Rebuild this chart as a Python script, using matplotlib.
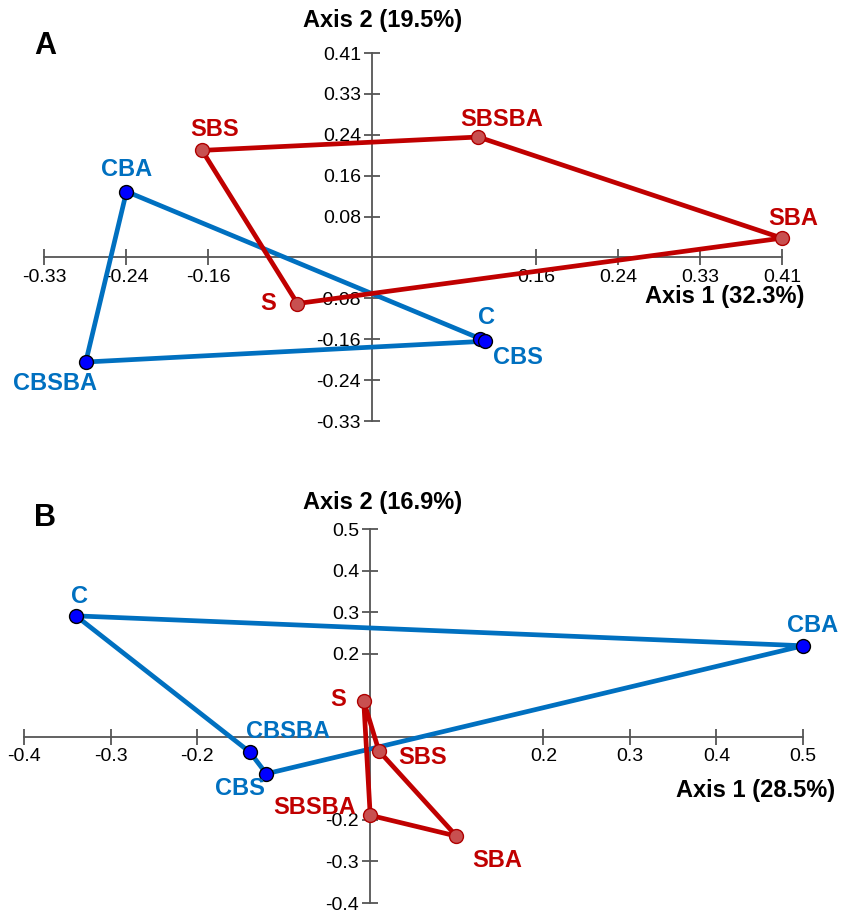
import matplotlib.pyplot as plt

plt.rcParams['font.family'] = ['Liberation Sans', 'DejaVu Sans']

# panel A (axis scores)
a_soil = ['SBS', 'SBSBA', 'SBA', 'S']
a_soil_x = [-0.171, 0.107, 0.4125, -0.075]
a_soil_y = [0.216, 0.243, 0.039, -0.093]
a_ctrl = ['CBA', 'C', 'CBS', 'CBSBA']
a_ctrl_x = [-0.247, 0.109, 0.114, -0.288]
a_ctrl_y = [0.133, -0.164, -0.169, -0.211]
a_xticks = [-0.33, -0.2475, -0.165, 0.165, 0.2475, 0.33, 0.4125]
a_xlabels = ['-0.33', '-0.24', '-0.16', '0.16', '0.24', '0.33', '0.41']
a_yticks = [0.4125, 0.33, 0.2475, 0.165, 0.0825, -0.0825, -0.165, -0.2475, -0.33]
a_ylabels = ['0.41', '0.33', '0.24', '0.16', '0.08', '-0.08', '-0.16', '-0.24', '-0.33']

# panel B
b_soil = ['S', 'SBS', 'SBA', 'SBSBA']
b_soil_x = [-0.0075, 0.010, 0.0996, 0.0]
b_soil_y = [0.086, -0.034, -0.239, -0.189]
b_ctrl = ['C', 'CBA', 'CBS', 'CBSBA']
b_ctrl_x = [-0.340, 0.500, -0.120, -0.139]
b_ctrl_y = [0.291, 0.219, -0.089, -0.037]
b_xticks = [-0.4, -0.3, -0.2, 0.2, 0.3, 0.4, 0.5]
b_xlabels = ['-0.4', '-0.3', '-0.2', '0.2', '0.3', '0.4', '0.5']
b_yticks = [0.5, 0.4, 0.3, 0.2, -0.2, -0.3, -0.4]
b_ylabels = ['0.5', '0.4', '0.3', '0.2', '-0.2', '-0.3', '-0.4']

# label offsets in pixels (dx, dy)
a_off = {'SBS': (13, 21), 'SBSBA': (23, 18), 'SBA': (11, 20), 'S': (-29, 0),
         'CBA': (0, 22), 'C': (6, 21), 'CBS': (33, -16), 'CBSBA': (-31, -21)}
b_off = {'C': (4, 19), 'CBA': (10, 20), 'CBSBA': (38, 21), 'CBS': (-26, -15),
         'S': (-26, 2), 'SBS': (44, -7), 'SBSBA': (-56, 8), 'SBA': (41, -24)}

RED = '#C00000'
BLUE = '#0070C0'


def draw(ax, sx, sy, sn, cx, cy, cn, xt, xl, yt, yl, off):
    ax.set_xlim(xt[0], xt[-1])
    ax.set_ylim(yt[-1], yt[0])
    for s in ['top', 'right']:
        ax.spines[s].set_visible(False)
    for s in ['left', 'bottom']:
        ax.spines[s].set_position('zero')
        ax.spines[s].set_color('#555555')
        ax.spines[s].set_linewidth(1.3)
    ax.set_xticks(xt)
    ax.set_xticklabels(xl)
    ax.set_yticks(yt)
    ax.set_yticklabels(yl)
    ax.tick_params(direction='inout', length=12, width=1.3, color='#555555',
                   labelsize=14, pad=2)
    ax.patch.set_visible(False)

    ax.plot(cx + cx[:1], cy + cy[:1], color=BLUE, lw=3.4, clip_on=False, zorder=3)
    ax.plot(sx + sx[:1], sy + sy[:1], color=RED, lw=3.4, clip_on=False, zorder=3)
    ax.plot(cx, cy, 'o', ms=10, mfc='#0000FF', mec='black', mew=1,
            clip_on=False, zorder=4)
    ax.plot(sx, sy, 'o', ms=10, mfc='#C85050', mec='#B00000', mew=1,
            clip_on=False, zorder=4)
    for n, x, y in zip(sn, sx, sy):
        ax.annotate(n, (x, y), xytext=off[n], textcoords='offset pixels',
                    ha='center', va='center', color=RED, fontsize=17,
                    fontweight='bold', zorder=5)
    for n, x, y in zip(cn, cx, cy):
        ax.annotate(n, (x, y), xytext=off[n], textcoords='offset pixels',
                    ha='center', va='center', color=BLUE, fontsize=17,
                    fontweight='bold', zorder=5)


fig = plt.figure(figsize=(8.46, 9.15), dpi=100)
W, H = 846, 915

axA = fig.add_axes([44 / W, (H - 421) / H, (782 - 44) / W, (421 - 53) / H])
draw(axA, a_soil_x, a_soil_y, a_soil, a_ctrl_x, a_ctrl_y, a_ctrl,
     a_xticks, a_xlabels, a_yticks, a_ylabels, a_off)

axB = fig.add_axes([24 / W, (H - 903) / H, (803 - 24) / W, (903 - 529) / H])
draw(axB, b_soil_x, b_soil_y, b_soil, b_ctrl_x, b_ctrl_y, b_ctrl,
     b_xticks, b_xlabels, b_yticks, b_ylabels, b_off)

fig.text(383 / W, 1 - 21 / H, 'Axis 2 (19.5%)', ha='center', va='center',
         fontsize=17, fontweight='bold')
fig.text(804 / W, 1 - 297 / H, 'Axis 1 (32.3%)', ha='right', va='center',
         fontsize=17, fontweight='bold')
fig.text(383 / W, 1 - 503 / H, 'Axis 2 (16.9%)', ha='center', va='center',
         fontsize=17, fontweight='bold')
fig.text(835 / W, 1 - 790 / H, 'Axis 1 (28.5%)', ha='right', va='center',
         fontsize=17, fontweight='bold')
fig.text(45 / W, 1 - 46 / H, 'A', ha='center', va='center', fontsize=22,
         fontweight='bold')
fig.text(45 / W, 1 - 518 / H, 'B', ha='center', va='center', fontsize=22,
         fontweight='bold')

fig.savefig('out.png', dpi=100)
